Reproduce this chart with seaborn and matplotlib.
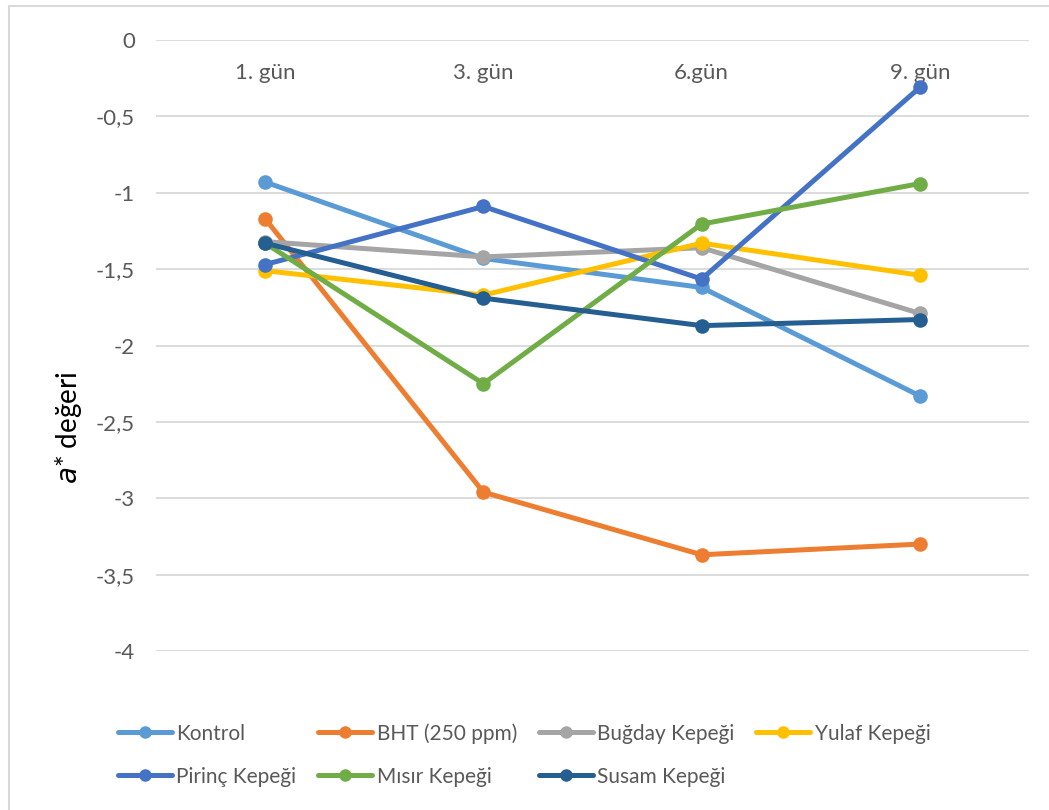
import matplotlib
matplotlib.use("Agg")
import matplotlib.pyplot as plt
import seaborn as sns
import pandas as pd
from matplotlib.patches import Rectangle
from matplotlib.lines import Line2D

days = ["1. gün", "3. gün", "6.gün", "9. gün"]
series_names = ["Kontrol", "BHT (250 ppm)", "Buğday Kepeği", "Yulaf Kepeği",
                "Pirinç Kepeği", "Mısır Kepeği", "Susam Kepeği"]
kontrol = [-0.93, -1.43, -1.62, -2.33]
bht = [-1.17, -2.96, -3.37, -3.30]
bugday = [-1.32, -1.42, -1.36, -1.79]
yulaf = [-1.51, -1.67, -1.33, -1.54]
pirinc = [-1.47, -1.09, -1.565, -0.31]
misir = [-1.33, -2.25, -1.205, -0.94]
susam = [-1.33, -1.69, -1.87, -1.83]
yticks = [0, -0.5, -1, -1.5, -2, -2.5, -3, -3.5, -4]
ytick_labels = ["0", "-0,5", "-1", "-1,5", "-2", "-2,5", "-3", "-3,5", "-4"]

colors = ["#5B9BD5", "#ED7D31", "#A5A5A5", "#FFC000", "#4472C4", "#70AD47", "#255E91"]

values = [kontrol, bht, bugday, yulaf, pirinc, misir, susam]
rows = []
for name, vals in zip(series_names, values):
    for d, v in zip(days, vals):
        rows.append({"Gün": d, "Değer": v, "Grup": name})
df = pd.DataFrame(rows)

sns.set_theme(style="white")
plt.rcParams["font.family"] = ["Lato", "DejaVu Sans"]

fig = plt.figure(figsize=(10.49, 8.10), dpi=100)
ax = fig.add_axes([156 / 1049, 1 - 651 / 810, (1029 - 156) / 1049, (651 - 40) / 810])

sns.lineplot(data=df, x="Gün", y="Değer", hue="Grup", hue_order=series_names,
             palette=colors, marker="o", markersize=10.5, markeredgewidth=0,
             linewidth=3.6, sort=False, ax=ax, legend=False)

ax.set_xlim(-0.5, 3.5)
ax.set_ylim(-4, 0)
ax.set_yticks(yticks)
ax.set_yticklabels(ytick_labels)
ax.yaxis.grid(True, color="#D9D9D9", linewidth=1.3)
ax.set_axisbelow(True)
for s in ax.spines.values():
    s.set_visible(False)
ax.tick_params(axis="y", length=0, pad=15, labelsize=16, labelcolor="#595959")
ax.xaxis.tick_top()
ax.tick_params(axis="x", length=0, labelsize=16, labelcolor="#595959",
               top=False, bottom=False, labeltop=True, labelbottom=False, pad=-31)
ax.set_xlabel("")
ax.set_ylabel(r"$\it{a}$* değeri", fontsize=20, color="black")
ax.yaxis.label.set_verticalalignment("center")
ax.yaxis.label.set_horizontalalignment("center")
ax.yaxis.set_label_coords((69 - 156) / 873, (651 - 428) / 611)

# Legend (row-wise order emulated)
handles = [Line2D([], [], color=c, linewidth=3.6, marker="o", markersize=9,
                  markeredgewidth=0) for c in colors]
order = [0, 4, 1, 5, 2, 6, 3]
leg = fig.legend([handles[i] for i in order], [series_names[i] for i in order],
                 ncol=4, loc="upper left", bbox_to_anchor=(118 / 1049, 1 - 723 / 810),
                 frameon=False, fontsize=15, handlelength=2.6, handletextpad=0.2,
                 columnspacing=1.05, labelspacing=1.1, borderaxespad=0, borderpad=0)
for t in leg.get_texts():
    t.set_color("#595959")

border = Rectangle((8.5 / 1049, -0.05), 1.2, 1.05 - 5.5 / 810, transform=fig.transFigure,
                   fill=False, edgecolor="#D9D9D9", linewidth=1.5)
fig.patches.append(border)

fig.savefig("out.png", dpi=100, facecolor="white")
